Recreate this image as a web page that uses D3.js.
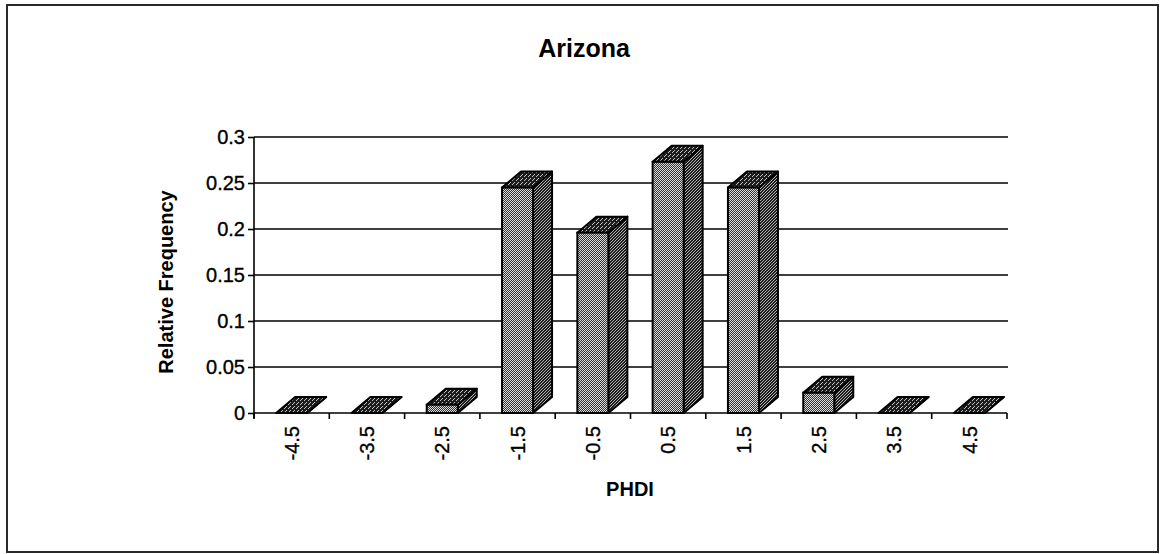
<!DOCTYPE html>
<html>
<head>
<meta charset="utf-8">
<script src="https://cdn.jsdelivr.net/npm/d3@7"></script>
<style>
  html, body { margin: 0; padding: 0; background: #fff; }
  svg { display: block; }
  text { font-family: "Liberation Sans", Arial, sans-serif; fill: #000; }
</style>
</head>
<body>
<svg id="chart" width="1164" height="554"></svg>
<script>
// PHDI class midpoints and the share of months falling in each class
const categories = ["-4.5", "-3.5", "-2.5", "-1.5", "-0.5", "0.5", "1.5", "2.5", "3.5", "4.5"];
const frequencies = [0, 0, 0.009, 0.245, 0.196, 0.273, 0.245, 0.022, 0, 0];
const yTicks = [0, 0.05, 0.1, 0.15, 0.2, 0.25, 0.3];
const yTickLabels = ["0", "0.05", "0.1", "0.15", "0.2", "0.25", "0.3"];

const titleText = "Arizona";
const xTitle = "PHDI";
const yTitle = "Relative Frequency";

const svg = d3.select("#chart");

// plot area
const plotLeft = 254, plotRight = 1007, plotTop = 137, plotBottom = 413;
const depthX = 19, depthY = 16;

// patterned fills for the three visible faces of each column
const defs = svg.append("defs");
function pattern(id, size, bg, dots, dotColor) {
  const p = defs.append("pattern")
    .attr("id", id).attr("patternUnits", "userSpaceOnUse")
    .attr("width", size).attr("height", size);
  p.append("rect").attr("width", size).attr("height", size).attr("fill", bg);
  dots.forEach(([dx, dy]) => p.append("rect")
    .attr("x", dx).attr("y", dy).attr("width", 1).attr("height", 1).attr("fill", dotColor));
}
pattern("front", 2, "#333", [[0, 0], [1, 1]], "#dcdcdc");
pattern("side", 3, "#1c1c1c", [[0, 0], [2, 1], [1, 2]], "#b4b4b4");
pattern("topface", 4, "#1c1c1c", [[0, 0], [2, 2], [1, 3]], "#c4c4c4");

// outer frame
svg.append("rect")
  .attr("x", 7).attr("y", 5).attr("width", 1151).attr("height", 547)
  .attr("fill", "none").attr("stroke", "#2a2a2a").attr("stroke-width", 2);

const x = d3.scaleBand()
  .domain(categories)
  .range([plotLeft, plotRight])
  .paddingInner(0.588)
  .paddingOuter(0.294);

const y = d3.scaleLinear().domain([0, 0.3]).range([plotBottom, plotTop]);

// horizontal gridlines
svg.append("g")
  .selectAll("line")
  .data(yTicks.slice(1))
  .join("line")
  .attr("x1", plotLeft).attr("x2", plotRight + 1)
  .attr("y1", d => y(d)).attr("y2", d => y(d))
  .attr("stroke", "#000").attr("stroke-width", 1.6);

const labelFont = sel => sel
  .style("font-size", "20px")
  .style("font-family", "'Liberation Sans', Arial, sans-serif")
  .attr("fill", "#000")
  .attr("stroke", "#000")
  .attr("stroke-width", 0.35);

// y axis
const yAxis = svg.append("g")
  .attr("transform", `translate(${plotLeft},0)`)
  .call(d3.axisLeft(y)
    .tickValues(yTicks)
    .tickFormat((d, i) => yTickLabels[i])
    .tickSize(6)
    .tickPadding(3));
yAxis.select(".domain").attr("stroke", "#000").attr("stroke-width", 1.6)
  .attr("d", `M0,${plotTop}V${plotBottom + 5}`);
yAxis.selectAll(".tick line").attr("stroke", "#000").attr("stroke-width", 1.6);
yAxis.selectAll(".tick text").call(labelFont);

// columns: front face, right side, top
const bw = x.bandwidth();
const bars = svg.append("g")
  .selectAll("g")
  .data(categories.map((c, i) => ({ c, v: frequencies[i] })))
  .join("g");

bars.append("polygon")
  .attr("points", d => {
    const x0 = x(d.c) + bw, yt = y(d.v);
    return [[x0, yt], [x0 + depthX, yt - depthY], [x0 + depthX, plotBottom - depthY], [x0, plotBottom]].join(" ");
  })
  .attr("fill", "url(#side)")
  .attr("stroke", "#000").attr("stroke-width", 2).attr("stroke-linejoin", "round");

bars.append("polygon")
  .attr("points", d => {
    const x0 = x(d.c), yt = y(d.v);
    return [[x0, yt], [x0 + depthX, yt - depthY], [x0 + bw + depthX, yt - depthY], [x0 + bw, yt]].join(" ");
  })
  .attr("fill", "url(#topface)")
  .attr("stroke", "#000").attr("stroke-width", 2).attr("stroke-linejoin", "round");

bars.filter(d => d.v > 0).append("rect")
  .attr("x", d => x(d.c))
  .attr("y", d => y(d.v))
  .attr("width", bw)
  .attr("height", d => plotBottom - y(d.v))
  .attr("fill", "url(#front)")
  .attr("stroke", "#000").attr("stroke-width", 2);

// x axis line with ticks on class boundaries
const step = x.step();
const boundaries = d3.range(categories.length + 1).map(i => plotLeft + i * step);
svg.append("line")
  .attr("x1", plotLeft).attr("x2", plotRight)
  .attr("y1", plotBottom).attr("y2", plotBottom)
  .attr("stroke", "#000").attr("stroke-width", 1.6);
svg.append("g")
  .selectAll("line")
  .data(boundaries)
  .join("line")
  .attr("x1", d => d).attr("x2", d => d)
  .attr("y1", plotBottom).attr("y2", plotBottom + 6)
  .attr("stroke", "#000").attr("stroke-width", 1.6);

// rotated class labels
const xAxis = svg.append("g")
  .attr("transform", `translate(0,${plotBottom})`)
  .call(d3.axisBottom(x).tickSize(0).tickPadding(0));
xAxis.select(".domain").remove();
xAxis.selectAll(".tick text")
  .call(labelFont)
  .attr("text-anchor", "end")
  .attr("transform", "rotate(-90)")
  .attr("x", -13)
  .attr("y", 0)
  .attr("dy", "0.36em");

// titles
svg.append("text")
  .attr("x", 584).attr("y", 57)
  .attr("text-anchor", "middle")
  .style("font-size", "25px").style("font-weight", "bold")
  .text(titleText);

svg.append("text")
  .attr("x", 630).attr("y", 496)
  .attr("text-anchor", "middle")
  .style("font-size", "20px").style("font-weight", "bold")
  .text(xTitle);

svg.append("text")
  .attr("transform", "translate(173,282) rotate(-90)")
  .attr("text-anchor", "middle")
  .style("font-size", "20px").style("font-weight", "bold")
  .text(yTitle);
</script>
</body>
</html>
